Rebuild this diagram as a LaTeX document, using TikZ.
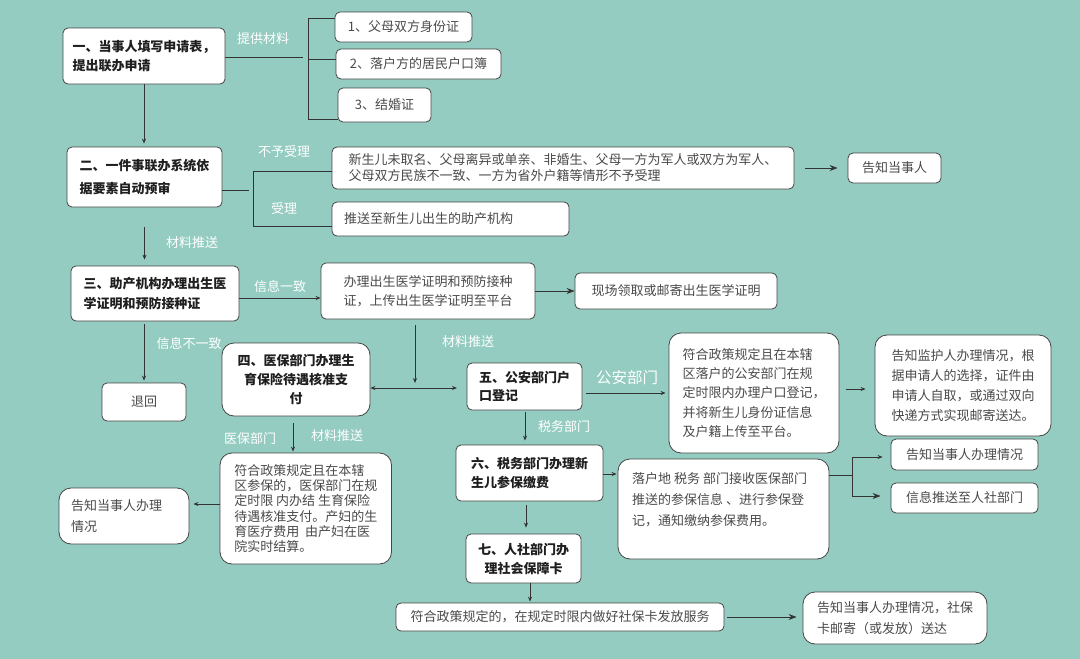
\documentclass[tikz,border=0pt]{standalone}
\usepackage{fontspec}
\setmainfont{Noto Sans CJK SC}
\usetikzlibrary{arrows.meta,calc}
\definecolor{bg}{HTML}{94CCC1}
\definecolor{lnc}{HTML}{333333}
\definecolor{bdc}{HTML}{444444}
\definecolor{txc}{HTML}{4A4A4A}
\begin{document}
\begin{tikzpicture}[x=1pt,y=-1pt,
  box/.style={draw=bdc, line width=0.8pt, fill=white, rounded corners=5pt, inner sep=0pt, align=left, text=txc},
  bigr/.style={rounded corners=12pt},
  ls/.style={font=\fontsize{13}{#1}\selectfont},
  bls/.style={font=\fontsize{13}{#1}\selectfont\bfseries, text=black!88},
  lbl/.style={text=white, inner sep=0pt, font=\fontsize{13}{15}\selectfont},
  lnk/.style={draw=lnc, line width=0.8pt},
  arr/.style={lnk, -{Stealth[length=5pt,width=4pt]}},
  arrb/.style={lnk, -{Stealth[length=8pt,width=6pt]}},
  dbl/.style={lnk, {Stealth[length=5pt,width=4pt]}-{Stealth[length=5pt,width=4pt]}}
]
\useasboundingbox (0,0) rectangle (1080,659);
\fill[bg] (0,0) rectangle (1080,659);

% ---- nodes ----
\node[box, bls=19, minimum width=162pt, minimum height=56pt] (b1) at (144,56) {一、当事人填写申请表，\\提出联办申请};
\node[box, ls=17, minimum width=137pt, minimum height=30pt] (m1) at (403.5,27) {1、父母双方身份证};
\node[box, ls=17, minimum width=165pt, minimum height=30pt] (m2) at (418.5,64) {2、落户方的居民户口簿};
\node[box, ls=17, minimum width=93pt, minimum height=34pt] (m3) at (384.5,105) {3、结婚证};

\node[box, bls=23, minimum width=155pt, minimum height=60pt] (b2) at (144.5,177) {二、一件事联办系统依\\据要素自动预审};
\node[box, ls=16, minimum width=462pt, minimum height=42pt] (r1) at (563,168) {新生儿未取名、父母离异或单亲、非婚生、父母一方为军人或双方为军人、\\父母双方民族不一致、一方为省外户籍等情形不予受理};
\node[box, ls=17, minimum width=93pt, minimum height=30pt] (tz1) at (894.5,168) {告知当事人};
\node[box, ls=17, minimum width=237pt, minimum height=34pt, text width=213pt] (r2) at (450.5,219) {推送至新生儿出生的助产机构};

\node[box, bls=20, minimum width=168pt, minimum height=55pt] (b3) at (155,293.5) {三、助产机构办理出生医\\学证明和预防接种证};
\node[box, ls=19, minimum width=214pt, minimum height=56pt] (b3r) at (428,291) {办理出生医学证明和预防接种\\证，上传出生医学证明至平台};
\node[box, ls=17, minimum width=202pt, minimum height=36pt] (xc) at (676,291) {现场领取或邮寄出生医学证明};
\node[box, ls=17, minimum width=84pt, minimum height=38pt] (th) at (144,402) {退回};

\node[box, bigr, bls=19, align=center, minimum width=148pt, minimum height=73pt] (b4) at (296,379.5) {四、医保部门办理生\\育保险待遇核准支\\付};
\node[box, bls=18, minimum width=115pt, minimum height=47pt] (b5) at (524.5,386.5) {五、公安部门户\\口登记};
\node[box, bigr, ls=19.3, minimum width=170pt, minimum height=120pt] (gaR) at (754,393) {符合政策规定且在本辖\\区落户的公安部门在规\\定时限内办理户口登记，\\并将新生儿身份证信息\\及户籍上传至平台。};
\node[box, bigr, ls=20, minimum width=176pt, minimum height=101pt] (jh) at (963,385.5) {告知监护人办理情况，根\\据申请人的选择，证件由\\申请人自取，或通过双向\\快递方式实现邮寄送达。};
\node[box, ls=17, minimum width=147pt, minimum height=31pt] (tz2) at (964.5,454.5) {告知当事人办理情况};
\node[box, ls=17, minimum width=147pt, minimum height=30pt] (xx) at (964.5,498) {信息推送至人社部门};

\node[box, bls=19, minimum width=147pt, minimum height=56pt] (b6) at (529.5,473) {六、税务部门办理新\\生儿参保缴费};
\node[box, bigr, minimum width=211pt, minimum height=100pt] (sw) at (723.5,509) {};
\node[anchor=north west, inner sep=0pt, align=left, text=txc, ls=21] (swt) at (632,472) {落户地 税务 部门接收医保部门\\推送的参保信息 、进行参保登\\记，通知缴纳参保费用。};

\node[box, bigr, ls=15.3, minimum width=171.5pt, minimum height=111pt] (yb) at (305.75,508.5) {符合政策规定且在本辖\\区参保的，医保部门在规\\定时限 内办结 生育保险\\待遇核准支付。产妇的生\\育医疗费用~~由产妇在医\\院实时结算。};
\node[box, bigr, ls=21, minimum width=130pt, minimum height=56pt, text width=106pt] (tz3) at (124,516) {告知当事人办理\\情况};

\node[box, bls=19, align=center, minimum width=115pt, minimum height=49pt] (b7) at (523.5,558.5) {七、人社部门办\\理社会保障卡};
\node[box, ls=17, minimum width=328pt, minimum height=28pt] (sb) at (560,617) {符合政策规定的，在规定时限内做好社保卡发放服务};
\node[box, bigr, ls=21, minimum width=184pt, minimum height=52pt] (tz4) at (895,618) {告知当事人办理情况，社保\\卡邮寄（或发放）送达};

% ---- labels ----
\node[lbl] (l1) at (263,39) {提供材料};
\node[lbl] (l2) at (284,152) {不予受理};
\node[lbl] (l3) at (284,209) {受理};
\node[lbl] (l4) at (192,243) {材料推送};
\node[lbl] (l5) at (280,287) {信息一致};
\node[lbl] (l6) at (189,344) {信息不一致};
\node[lbl] (l7) at (468,342) {材料推送};
\node[lbl, font=\fontsize{15.5}{17}\selectfont] (l8) at (627,378) {公安部门};
\node[lbl] (l9) at (564,427) {税务部门};
\node[lbl] (l10) at (250,439) {医保部门};
\node[lbl] (l11) at (337,436) {材料推送};

% ---- coordinates ----
\coordinate (k0) at (303,57);
\coordinate (k1) at (308,18);
\coordinate (k2) at (308,119);
\coordinate (k3) at (308,59);
\coordinate (q0) at (249,190);
\coordinate (q1) at (253,171);
\coordinate (q2) at (253,226);
\coordinate (c3) at (0,298);
\coordinate (c4) at (415,383);
\coordinate (c5) at (457,388);
\coordinate (c6) at (0,393);
\coordinate (c7) at (0,389);
\coordinate (c8) at (525,0);
\coordinate (c9) at (293,0);
\coordinate (c10) at (0,504);
\coordinate (c11) at (0,474);
\coordinate (s0) at (852,475);
\coordinate (s1) at (852,457);
\coordinate (s2) at (852,496);
\coordinate (c12) at (526,0);
\coordinate (c13) at (530,0);

% ---- connectors ----
\draw[lnk] (b1.east |- k0) -- (k0);
\draw[lnk] (k1 -| m1.west) -- (k1) -- (k2) -- (k2 -| m3.west);
\draw[lnk] (k3) -- (k3 -| m2.west);
\draw[arr, shorten >=3pt] (b1.south) -- (b1.south |- b2.north);

\draw[lnk] (b2.east |- q0) -- (q0);
\draw[lnk] (q1 -| r1.west) -- (q1) -- (q2) -- (q2 -| r2.west);
\draw[arrb, shorten <=11pt, shorten >=10pt] (r1.east |- tz1.west) -- (tz1.west);
\draw[arr, shorten <=20pt, shorten >=6pt] (b2.south) -- (b2.south |- b3.north);

\draw[arr] (b3.east |- c3) -- (b3r.west |- c3);
\draw[arrb] (b3r.east |- xc.west) -- (xc.west);
\draw[arr, shorten <=3pt, shorten >=2pt] (th.north |- b3.south) -- (th.north);
\draw[arr, shorten <=6pt] (b3r.south -| c4) -- (c4);
\draw[dbl] (b4.east |- c5) -- (c5);

\draw[arr, shorten <=4pt, shorten >=3pt] (b5.east |- c6) -- (gaR.west |- c6);
\draw[arr, shorten <=7pt, shorten >=9pt] (gaR.east |- c7) -- (jh.west |- c7);
\draw[arr, shorten <=2pt, shorten >=4pt] (b5.south -| c8) -- (b6.north -| c8);
\draw[arr, shorten <=7pt, shorten >=1pt] (b4.south -| c9) -- (yb.north -| c9);
\draw[arr, shorten >=4pt] (yb.west |- c10) -- (tz3.east |- c10);
\draw[arr, shorten >=1pt] (b6.east |- c11) -- (sw.west |- c11);

\draw[lnk] (sw.east |- s0) -- (s0);
\draw[lnk] (s1) -- (s2);
\draw[arr, shorten >=8pt] (s1) -- (tz2.west |- s1);
\draw[arrb, shorten >=10pt] (s2) -- (xx.west |- s2);

\draw[arr, shorten <=4pt, shorten >=6pt] (b6.south -| c12) -- (b7.north -| c12);
\draw[arr, shorten >=1pt] (b7.south -| c13) -- (sb.north -| c13);
\draw[arrb, shorten <=3pt, shorten >=6pt] (sb.east) -- (tz4.west |- sb.east);
\end{tikzpicture}
\end{document}
